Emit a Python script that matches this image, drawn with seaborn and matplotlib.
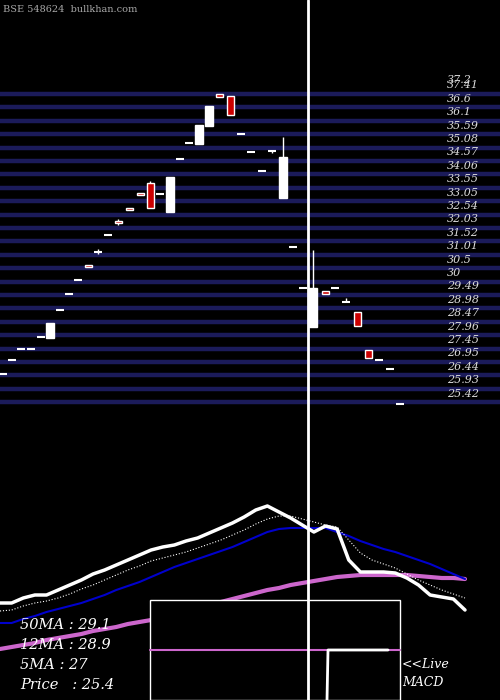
import matplotlib
matplotlib.use("Agg")
import matplotlib.pyplot as plt
import seaborn as sns
import numpy as np
import pandas as pd

sns.set_style("dark")
plt.rcParams['font.family'] = ['DejaVu Serif']

# candles
opens = [26.88,27.41,27.82,27.82,28.27,28.24,29.30,29.90,30.42,30.98,31.47,32.10,32.63,33.12,33.68,34.06,33.65,32.97,34.97,35.57,35.53,36.20,37.41,37.33,35.90,35.23,34.50,35.25,33.50,31.66,30.10,28.65,30.00,30.10,29.60,29.20,27.80,27.41,27.07,25.75]
closes= [26.88,27.41,27.82,27.82,28.27,28.80,29.30,29.90,30.42,30.90,31.47,32.10,32.57,33.06,33.62,33.12,33.65,34.29,34.97,35.57,36.24,36.96,37.30,36.62,35.90,35.23,34.50,35.20,35.04,31.66,30.10,30.10,29.90,30.10,29.65,28.70,27.50,27.41,27.07,25.75]
highs = [26.88,27.41,27.82,27.82,28.27,28.80,29.30,29.90,30.42,30.98,31.57,32.10,32.70,33.12,33.68,34.15,33.65,34.29,34.97,35.57,36.24,36.96,37.41,37.33,35.90,35.23,34.50,35.25,35.80,31.66,30.10,31.55,30.00,30.10,29.75,29.20,27.80,27.41,27.07,25.75]
lows  = [26.88,27.41,27.82,27.82,28.27,28.24,29.30,29.90,30.42,30.90,31.40,32.10,32.50,33.06,33.62,33.12,33.65,32.97,34.97,35.57,35.53,36.20,37.30,36.62,35.90,35.23,34.50,35.20,33.50,31.66,30.10,28.65,29.90,30.10,29.60,28.70,27.50,27.41,27.07,25.75]
candle_x = [3,12,21,31,41,50,60,69,78,88,98,108,118,129,140,150,160,170,180,189,199,209,219,230,241,251,262,272,283,293,303,313,325,335,346,357,368,379,390,400]

price_labels = ["37.41","36.6","36.1","35.59","35.08","34.57","34.06","33.55","33.05","32.54","32.03","31.52","31.01","30.5","30","29.49","28.98","28.47","27.96","27.45","26.95","26.44","25.93","25.42"]

# indicator panel (screen-scale units)
price_line = [603,603,598,595,595,590,585,580,574,570,565,560,555,550,547,545,541,538,533,528,523,517,510,506,512,518,525,532,526,529,560,572,572,572,573,578,585,595,597,599,610]
ma5 = [611,610,606,603,601,598,594,589,585,580,575,570,566,561,558,555,552,548,544,540,535,530,524,519,516,516,519,522,525,527,540,553,560,564,568,574,580,585,590,594,598]
ma12 = [623,623,619,616,612,609,606,603,599,595,590,586,582,577,572,567,563,559,555,551,547,542,537,532,529,528,528,528,528,532,536,541,545,549,552,556,560,564,569,574,579]
ma50 = [649,647,645,643,640,638,636,634,631,629,627,624,622,620,617,614,611,608,605,602,599,596,593,590,588,585,583,581,579,577,576,575,575,575,575,575,576,577,578,578,579]
info = ["50MA : 29.1","12MA : 28.9","5MA : 27","Price   : 25.4"]

fig = plt.figure(figsize=(5,7), dpi=100, facecolor="black")
ax = fig.add_axes([0,0,1,1])
ax.set_facecolor("black")
ax.set_xlim(0,500); ax.set_ylim(700,0)
ax.axis("off")

pp = 26.6
top = 37.41 + 94/pp
axp = fig.add_axes([0,0,1,1], sharex=ax)
axp.patch.set_alpha(0)
axp.set_ylim(37.41-606/pp, top)
axp.axis("off")

for i, lab in enumerate(price_labels):
    v = 37.41 - i*13.4/pp
    axp.axhline(v, color="#1b1b5a", lw=3.2, zorder=1)
    axp.text(447, v + 0.32, lab, color="#dddddd", fontsize=8, style="italic", va="center", zorder=5)
axp.text(447, 37.41 + 0.53, "37.2", color="#dddddd", fontsize=8, style="italic", va="center", zorder=5)

for x,o,c,h,l in zip(candle_x,opens,closes,highs,lows):
    up = c >= o
    axp.vlines(x, l, h, color="white", lw=1, zorder=3)
    if abs(c-o) < 0.05:
        axp.hlines(o, x-4, x+4, color="white", lw=1.5, zorder=3)
    else:
        axp.bar(x, c-o, bottom=o, width=7 if not up else 8,
                color="white" if up else "#cc0000", edgecolor="white", lw=1, zorder=4)

xs = np.linspace(0,465,41)
df = pd.DataFrame({"x":xs,"p":price_line,"m5":ma5,"m12":ma12,"m50":ma50})
sns.lineplot(data=df, x="x", y="m50", ax=ax, color="#cc66cc", lw=3, zorder=3)
sns.lineplot(data=df, x="x", y="m12", ax=ax, color="#0000cc", lw=1.5, zorder=3)
sns.lineplot(data=df, x="x", y="m5", ax=ax, color="white", lw=0.8, ls=":", zorder=3)
sns.lineplot(data=df, x="x", y="p", ax=ax, color="white", lw=2.5, zorder=3)
ax.set_xlim(0,500); ax.set_ylim(700,0); ax.axis("off")

ax.add_patch(plt.Rectangle((150,600),250,100, fill=True, fc="black", ec="white", lw=1, zorder=4))
ax.plot([150,400],[650,650], color="#cc66cc", lw=1.5, zorder=5)
ax.plot([327,328,388],[700,650,650], color="white", lw=2, zorder=5)
ax.text(402,668,"<<Live", color="white", fontsize=9, style="italic", zorder=6)
ax.text(402,686,"MACD", color="white", fontsize=9, style="italic", zorder=6)

for i,t in enumerate(info):
    ax.text(20, 625+20*i, t, color="white", fontsize=10.5, style="italic", va="center", zorder=6)

ax.text(3,10,"BSE 548624  bullkhan.com", color="#aaaaaa", fontsize=7, va="center")

axp.axvline(308, color="white", lw=2, zorder=10)

fig.savefig("out.png", dpi=100, facecolor="black")
